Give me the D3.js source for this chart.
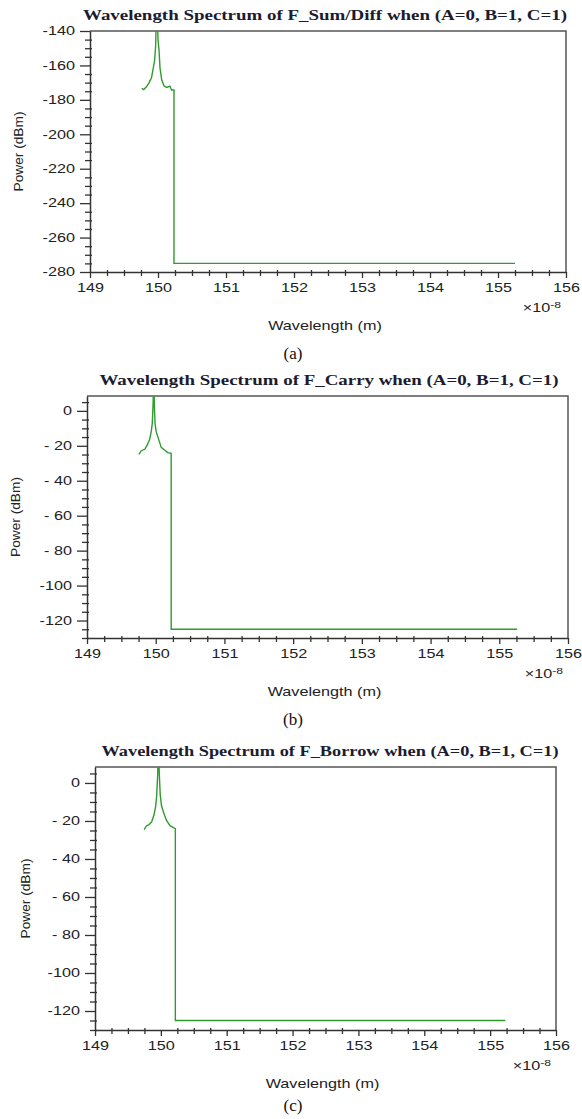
<!DOCTYPE html>
<html>
<head>
<meta charset="utf-8">
<script src="https://cdn.jsdelivr.net/npm/d3@7"></script>
<style>
body { margin: 0; background: #fff; }
svg { display: block; }
</style>
</head>
<body>
<svg id="fig" width="582" height="1119"></svg>
<script>
// values
var xTicks = [149, 150, 151, 152, 153, 154, 155, 156];
var yTicksA = [-140, -160, -180, -200, -220, -240, -260, -280];
var yTicksBC = [0, -20, -40, -60, -80, -100, -120];

var titles = [
	"Wavelength Spectrum of F_Sum/Diff when (A=0, B=1, C=1)",
	"Wavelength Spectrum of F_Carry when (A=0, B=1, C=1)",
	"Wavelength Spectrum of F_Borrow when (A=0, B=1, C=1)"
];
var captions = ["(a)", "(b)", "(c)"];

// wavelength in units of 1e-8 m, power in dBm
var wavelengthA = [149.76, 149.79, 149.83, 149.87, 149.905, 149.93, 149.95, 149.965, 149.978, 149.99, 150.0, 150.015, 150.03, 150.055, 150.09, 150.13, 150.175, 150.2, 150.235, 150.235, 155.25];
var powerA = [-173.3, -174, -172.4, -170, -167, -161.7, -157, -149, -125, -130, -145, -151, -161.7, -168.5, -172, -172.8, -172, -174.3, -174.3, -275, -275];

var wavelengthB = [149.756, 149.79, 149.84, 149.877, 149.91, 149.935, 149.95, 149.962, 149.972, 149.98, 149.99, 150.007, 150.045, 150.08, 150.127, 150.175, 150.225, 150.225, 155.26];
var powerB = [-24.9, -22.8, -22, -19.5, -16.6, -11.9, -7.1, 4, 22, 3, -7.1, -11.9, -16.6, -20.9, -22.4, -23.9, -24.3, -125, -125];

var wavelengthC = [149.747, 149.78, 149.82, 149.86, 149.894, 149.92, 149.935, 149.952, 149.965, 149.975, 149.99, 150.01, 150.05, 150.09, 150.14, 150.19, 150.22, 150.22, 155.23];
var powerC = [-24.6, -22.6, -21.9, -20.5, -17, -12.6, -7.4, 4, 22, 6, -6, -12, -16.5, -20, -22.5, -23.5, -24, -125, -125];

var panels = [
	{ title: titles[0], caption: captions[0], wl: wavelengthA, pw: powerA, yTicks: yTicksA,
	  yDomain: [-280, -140], left: 90, right: 566, top: 31, bottom: 272, titleX: 325, titleW: 484, ylabX: 19 },
	{ title: titles[1], caption: captions[1], wl: wavelengthB, pw: powerB, yTicks: yTicksBC,
	  yDomain: [-130, 8.5], left: 87, right: 568, top: 396, bottom: 638, titleX: 329, titleW: 459, ylabX: 16 },
	{ title: titles[2], caption: captions[2], wl: wavelengthC, pw: powerC, yTicks: yTicksBC,
	  yDomain: [-130, 8.4], left: 95, right: 556, top: 767, bottom: 1030, titleX: 330, titleW: 457, ylabX: 26 }
];

var svg = d3.select("#fig");
var sx = 1.35; // the source figure's text is stretched sideways

var fmtY = function(d) {
	if (d == 0) return "0";
	var a = Math.abs(d);
	return a >= 100 ? "-" + a : "- " + a;
};

var stretchText = function(g, x, y, str, size, anchor) {
	return g.append("text")
		.attr("transform", "translate(" + x + "," + y + ") scale(" + sx + ",1)")
		.attr("text-anchor", anchor)
		.attr("dy", "0.35em")
		.attr("font-family", "Liberation Sans, Arial, sans-serif")
		.attr("font-size", size)
		.attr("fill", "#222")
		.text(str);
};

panels.forEach(function(p, i) {
	var g = svg.append("g");

	var xScale = d3.scaleLinear().domain([149, 156]).range([p.left, p.right]);
	var yScale = d3.scaleLinear().domain(p.yDomain).range([p.bottom, p.top]);

	var xMinor = d3.range(149, 156.01, 0.25).filter(function(d) { return d % 1 != 0; });
	var yMinor = d3.range(p.yDomain[0], p.yDomain[1] + 0.01, 5).filter(function(d) { return d % 20 != 0; });

	// frame top + right
	g.append("path")
		.attr("d", "M" + p.left + "," + p.top + "H" + p.right + "V" + p.bottom)
		.attr("fill", "none")
		.attr("stroke", "#555")
		.attr("stroke-width", 1.5);

	// spectrum line
	var clipId = "clip" + i;
	g.append("clipPath").attr("id", clipId)
		.append("rect")
		.attr("x", p.left).attr("y", p.top)
		.attr("width", p.right - p.left).attr("height", p.bottom - p.top);

	var line = d3.line()
		.x(function(d) { return xScale(d[0]); })
		.y(function(d) { return yScale(d[1]); });

	g.append("path")
		.datum(d3.zip(p.wl, p.pw))
		.attr("clip-path", "url(#" + clipId + ")")
		.attr("d", line)
		.attr("fill", "none")
		.attr("stroke", "#2e9b2e")
		.attr("stroke-width", 1.4);

	// y axis
	var yMinorAxis = g.append("g")
		.attr("transform", "translate(" + p.left + ",0)")
		.call(d3.axisLeft(yScale).tickValues(yMinor).tickSize(5).tickSizeOuter(0).tickFormat(""));
	yMinorAxis.select(".domain").remove();
	yMinorAxis.selectAll("line").attr("x1", 2).attr("stroke", "#333").attr("stroke-width", 1.3);

	var yAxis = g.append("g")
		.attr("transform", "translate(" + p.left + ",0)")
		.call(d3.axisLeft(yScale).tickValues(p.yTicks).tickSize(10).tickSizeOuter(0).tickFormat(fmtY));
	yAxis.select(".domain").attr("stroke", "#333").attr("stroke-width", 1.5);
	yAxis.selectAll("line").attr("stroke", "#333").attr("stroke-width", 1.3);
	yAxis.selectAll("text")
		.attr("x", -15 / sx)
		.attr("transform", "scale(" + sx + ",1)")
		.attr("font-family", "Liberation Sans, Arial, sans-serif")
		.attr("font-size", 12)
		.attr("fill", "#222");

	// x axis
	var xMinorAxis = g.append("g")
		.attr("transform", "translate(0," + p.bottom + ")")
		.call(d3.axisBottom(xScale).tickValues(xMinor).tickSize(4).tickSizeOuter(0).tickFormat(""));
	xMinorAxis.select(".domain").remove();
	xMinorAxis.selectAll("line").attr("y1", -2).attr("stroke", "#333").attr("stroke-width", 1.3);

	var xAxis = g.append("g")
		.attr("transform", "translate(0," + p.bottom + ")")
		.call(d3.axisBottom(xScale).tickValues(xTicks).tickSize(6).tickSizeOuter(0).tickFormat(d3.format("d")));
	xAxis.select(".domain").attr("stroke", "#333").attr("stroke-width", 1.5);
	xAxis.selectAll("line").attr("stroke", "#333").attr("stroke-width", 1.3);
	xAxis.selectAll("text")
		.attr("x", 0)
		.attr("y", 11)
		.attr("transform", "scale(" + sx + ",1)")
		.attr("font-family", "Liberation Sans, Arial, sans-serif")
		.attr("font-size", 12)
		.attr("fill", "#222");

	// title
	g.append("text")
		.attr("x", p.titleX - p.titleW / 2)
		.attr("y", p.top - 16)
		.attr("dy", "0.35em")
		.attr("textLength", p.titleW)
		.attr("lengthAdjust", "spacingAndGlyphs")
		.attr("font-family", "Liberation Serif, Times New Roman, serif")
		.attr("font-weight", "bold")
		.attr("font-size", 14)
		.attr("fill", "#1c1c30")
		.text(p.title);

	// y label
	g.append("text")
		.attr("transform", "translate(" + p.ylabX + "," + ((p.top + p.bottom) / 2) + ") rotate(-90)")
		.attr("text-anchor", "middle")
		.attr("dy", "0.35em")
		.attr("textLength", 80)
		.attr("lengthAdjust", "spacingAndGlyphs")
		.attr("font-family", "Liberation Sans, Arial, sans-serif")
		.attr("font-size", 12)
		.attr("fill", "#222")
		.text("Power (dBm)");

	// exponent
	var ex = stretchText(g, p.right - 5, p.bottom + 36, "", 12, "end");
	ex.append("tspan").text("\u00d710");
	ex.append("tspan").attr("font-size", 9).attr("dy", "-0.5em").text("-8");

	// x label
	stretchText(g, (p.left + p.right) / 2 - 3, p.bottom + 54, "Wavelength (m)", 12, "middle");

	// caption
	g.append("text")
		.attr("x", 293)
		.attr("y", Math.min(p.bottom + 81, 1105))
		.attr("dy", "0.35em")
		.attr("text-anchor", "middle")
		.attr("font-family", "Liberation Serif, Times New Roman, serif")
		.attr("font-size", 17)
		.attr("fill", "#111")
		.text(p.caption);
});
</script>
</body>
</html>
